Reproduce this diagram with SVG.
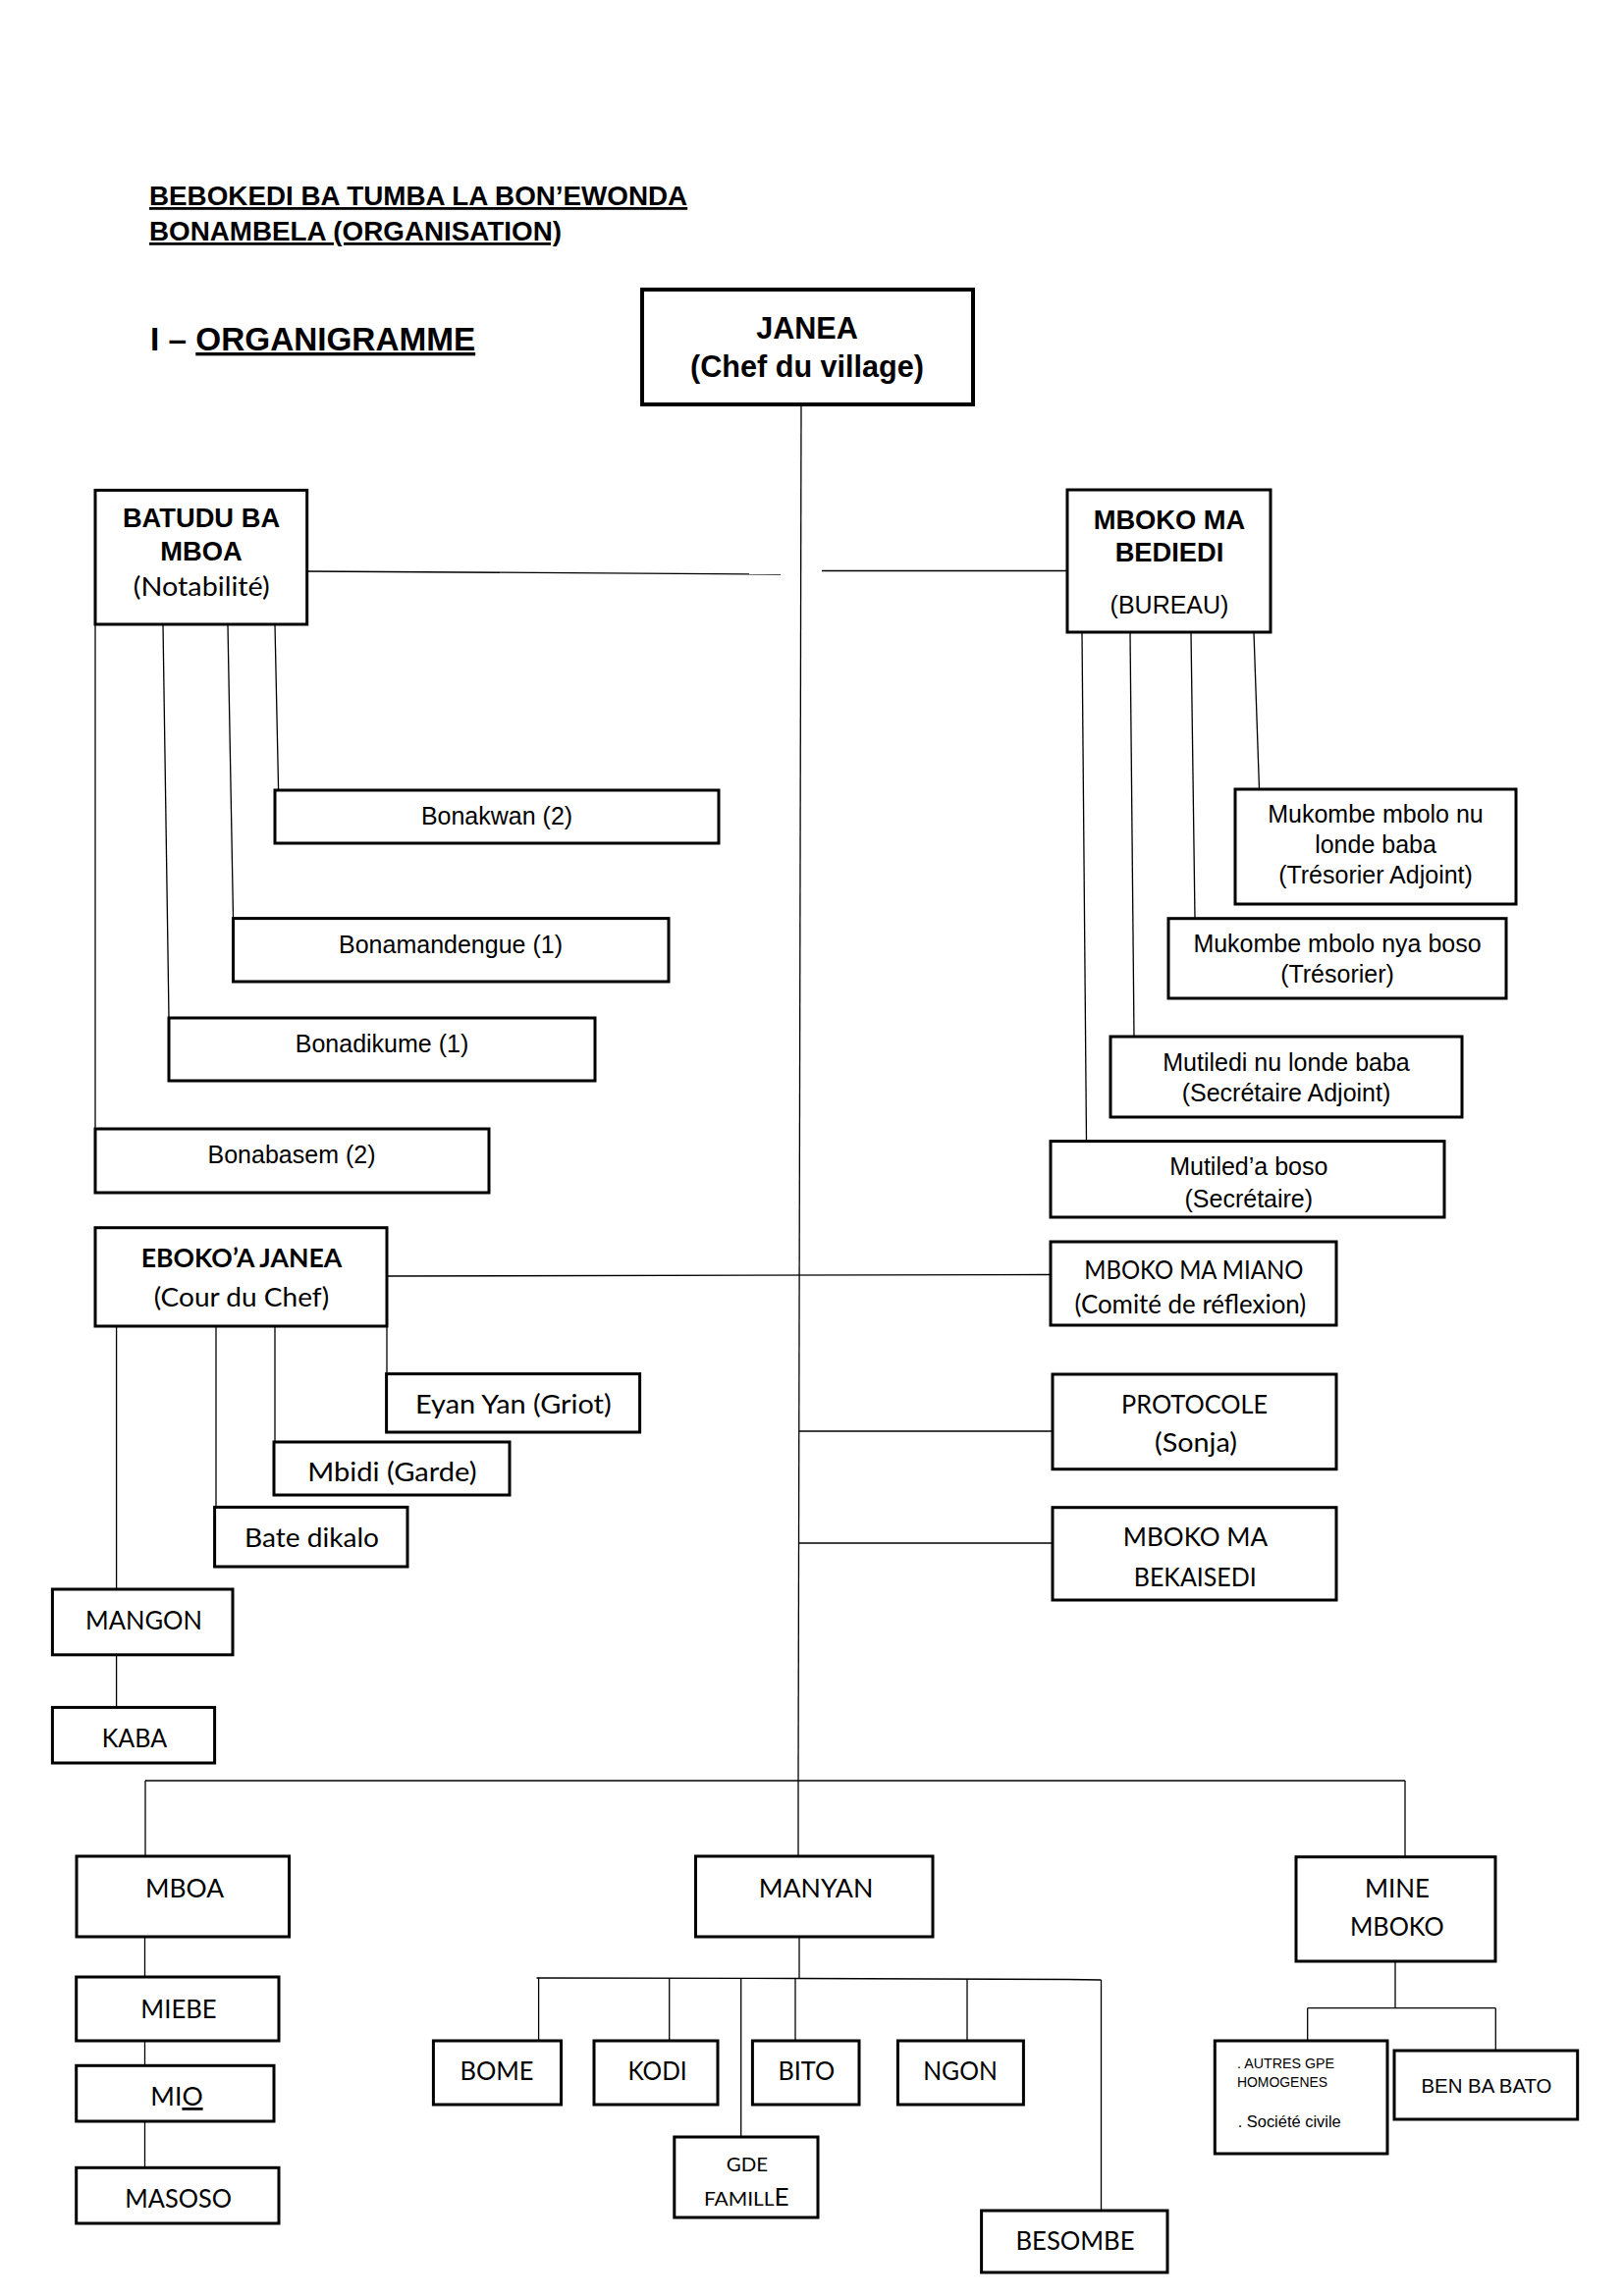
<svg xmlns="http://www.w3.org/2000/svg" width="1654" height="2339" viewBox="0 0 1654 2339">
<style>
rect.b{fill:#fff;stroke:#000;stroke-width:3}
rect.t{fill:#fff;stroke:#000;stroke-width:4}
#connectors line,#connectors polyline{stroke:#000;stroke-width:1.3;fill:none}
text{fill:#000}
.a{font-family:"Liberation Sans",Arial,sans-serif}
.c{font-family:Lato,"Open Sans",sans-serif}
.m{text-anchor:middle}
.bd{font-weight:bold}
.u{text-decoration:underline}
.s25{font-size:25px}
.s27{font-size:27.5px}
</style>
<rect width="1654" height="2339" fill="#fff"/>

<g id="header">
<text class="a bd u" x="152" y="209" font-size="27.8">BEBOKEDI BA TUMBA LA BON’EWONDA</text>
<text class="a bd u" x="152" y="245" font-size="27.8">BONAMBELA (ORGANISATION)</text>
<text class="a bd" x="153" y="357" font-size="33.3">I – <tspan class="u">ORGANIGRAMME</tspan></text>
</g>

<g id="connectors">
<line x1="816" y1="412" x2="813" y2="1814"/>
<line x1="312" y1="582" x2="795" y2="585"/>
<line x1="837" y1="581.5" x2="1087" y2="581.5"/>
<line x1="97" y1="636" x2="97" y2="1150"/>
<line x1="166" y1="636" x2="172" y2="1037"/>
<line x1="232" y1="636" x2="237.5" y2="935.6"/>
<line x1="280" y1="636" x2="283.6" y2="805"/>
<line x1="1102" y1="644" x2="1106.5" y2="1162.6"/>
<line x1="1151" y1="644" x2="1155" y2="1056"/>
<line x1="1213" y1="644" x2="1217" y2="935.7"/>
<line x1="1277" y1="644" x2="1282.5" y2="804"/>
<line x1="394" y1="1300" x2="1070" y2="1298.5"/>
<line x1="814" y1="1458" x2="1072" y2="1458"/>
<line x1="814" y1="1572" x2="1072" y2="1572"/>
<line x1="118.6" y1="1351" x2="118.6" y2="1619"/>
<line x1="220" y1="1351" x2="220" y2="1535.4"/>
<line x1="280" y1="1351" x2="280" y2="1469"/>
<line x1="394" y1="1351" x2="394" y2="1399.6"/>
<line x1="118.6" y1="1686" x2="118.6" y2="1739.4"/>
<line x1="148" y1="1814" x2="1431" y2="1814"/>
<line x1="148" y1="1814" x2="148" y2="1891"/>
<line x1="813" y1="1814" x2="813" y2="1891"/>
<line x1="1431" y1="1814" x2="1431" y2="1891.7"/>
<line x1="147.5" y1="1973" x2="147.5" y2="2014"/>
<line x1="147.5" y1="2079" x2="147.5" y2="2104.3"/>
<line x1="147.5" y1="2161" x2="147.5" y2="2208.3"/>
<line x1="814" y1="1973" x2="814" y2="2015.5"/>
<polyline points="546.5,2015 814,2015.5 1088,2016.5 1121.5,2017"/>
<line x1="548.6" y1="2015" x2="548.6" y2="2079"/>
<line x1="681.7" y1="2015.3" x2="681.7" y2="2079"/>
<line x1="754.7" y1="2015.4" x2="754.7" y2="2177"/>
<line x1="810" y1="2015.5" x2="810" y2="2079"/>
<line x1="985" y1="2016" x2="985" y2="2079"/>
<line x1="1121.5" y1="2017" x2="1121.5" y2="2252"/>
<line x1="1421" y1="1982" x2="1421" y2="2045.7"/>
<line x1="1331.7" y1="2045.7" x2="1523.3" y2="2045.7"/>
<line x1="1331.7" y1="2045.7" x2="1331.7" y2="2079"/>
<line x1="1523.3" y1="2045.7" x2="1523.3" y2="2089"/>
</g>

<g id="janea">
<rect class="t" x="654" y="295" width="337" height="117"/>
<text class="a bd m" x="822" y="345" font-size="30.6">JANEA</text>
<text class="a bd m" x="822" y="384" font-size="30.6">(Chef du village)</text>
</g>

<g id="batudu">
<rect class="b" x="97" y="499.4" width="215.7" height="136.6"/>
<text class="a bd m" x="205" y="537" font-size="27.3">BATUDU BA</text>
<text class="a bd m" x="205" y="571" font-size="27.3">MBOA</text>
<text class="c m s27" x="205.3" y="607" textLength="139" lengthAdjust="spacingAndGlyphs">(Notabilité)</text>
</g>

<g id="bonakwan">
<rect class="b" x="280" y="805" width="452" height="54"/>
<text class="a m s25" x="506" y="840">Bonakwan (2)</text>
</g>
<g id="bonamandengue">
<rect class="b" x="237.5" y="935.6" width="443.5" height="64.4"/>
<text class="a m s25" x="459" y="970.5">Bonamandengue (1)</text>
</g>
<g id="bonadikume">
<rect class="b" x="172" y="1037" width="434" height="64"/>
<text class="a m s25" x="389" y="1072">Bonadikume (1)</text>
</g>
<g id="bonabasem">
<rect class="b" x="97" y="1150" width="401" height="65"/>
<text class="a m s25" x="297" y="1185">Bonabasem (2)</text>
</g>

<g id="bediedi">
<rect class="b" x="1087" y="499" width="207" height="145"/>
<text class="a bd m" x="1191" y="538.7" font-size="27.3">MBOKO MA</text>
<text class="a bd m" x="1191" y="572" font-size="27.3">BEDIEDI</text>
<text class="a m s25" x="1191" y="625">(BUREAU)</text>
</g>

<g id="tresorier-adjoint">
<rect class="b" x="1258" y="804" width="286" height="117"/>
<text class="a m s25" x="1401" y="838">Mukombe mbolo nu</text>
<text class="a m s25" x="1401" y="869">londe baba</text>
<text class="a m s25" x="1401" y="900">(Trésorier Adjoint)</text>
</g>
<g id="tresorier">
<rect class="b" x="1190" y="935.7" width="344" height="81.3"/>
<text class="a m s25" x="1362" y="970">Mukombe mbolo nya boso</text>
<text class="a m s25" x="1362" y="1001">(Trésorier)</text>
</g>
<g id="secretaire-adjoint">
<rect class="b" x="1131" y="1056" width="358" height="82"/>
<text class="a m s25" x="1310" y="1091">Mutiledi nu londe baba</text>
<text class="a m s25" x="1310" y="1122">(Secrétaire Adjoint)</text>
</g>
<g id="secretaire">
<rect class="b" x="1070" y="1162.6" width="401" height="77.4"/>
<text class="a m s25" x="1271.8" y="1197">Mutiled’a boso</text>
<text class="a m s25" x="1271.8" y="1230">(Secrétaire)</text>
</g>

<g id="eboko">
<rect class="b" x="97" y="1250.7" width="297" height="100.3"/>
<text class="c bd m s27" x="246" y="1290.5" textLength="204.5" lengthAdjust="spacingAndGlyphs">EBOKO’A JANEA</text>
<text class="c m s27" x="246" y="1331" textLength="178.6" lengthAdjust="spacingAndGlyphs">(Cour du Chef)</text>
</g>
<g id="eyan">
<rect class="b" x="393.6" y="1399.6" width="258" height="59.4"/>
<text class="c m s27" x="522.8" y="1440" textLength="199.6" lengthAdjust="spacingAndGlyphs">Eyan Yan (Griot)</text>
</g>
<g id="mbidi">
<rect class="b" x="279" y="1469" width="240" height="54"/>
<text class="c m s27" x="399.4" y="1509" textLength="172.3" lengthAdjust="spacingAndGlyphs">Mbidi (Garde)</text>
</g>
<g id="bate">
<rect class="b" x="218.6" y="1535.4" width="196.4" height="60.6"/>
<text class="c m s27" x="317.5" y="1576" textLength="137" lengthAdjust="spacingAndGlyphs">Bate dikalo</text>
</g>
<g id="mangon">
<rect class="b" x="53.4" y="1619" width="183.6" height="66.8"/>
<text class="c m s27" x="146.5" y="1660" textLength="119" lengthAdjust="spacingAndGlyphs">MANGON</text>
</g>
<g id="kaba">
<rect class="b" x="53.4" y="1739.4" width="165.2" height="56.6"/>
<text class="c m s27" x="137" y="1779.6" textLength="66.5" lengthAdjust="spacingAndGlyphs">KABA</text>
</g>

<g id="miano">
<rect class="b" x="1070" y="1265" width="291" height="85"/>
<text class="c m s27" x="1215.8" y="1302.7" textLength="223" lengthAdjust="spacingAndGlyphs">MBOKO MA MIANO</text>
<text class="c m s27" x="1212.4" y="1338" textLength="235.7" lengthAdjust="spacingAndGlyphs">(Comité de réflexion)</text>
</g>
<g id="protocole">
<rect class="b" x="1072" y="1400" width="289" height="96.7"/>
<text class="c m s27" x="1216.6" y="1440" textLength="149" lengthAdjust="spacingAndGlyphs">PROTOCOLE</text>
<text class="c m s27" x="1218" y="1479" textLength="84" lengthAdjust="spacingAndGlyphs">(Sonja)</text>
</g>
<g id="bekaisedi">
<rect class="b" x="1072" y="1535.7" width="289" height="94.3"/>
<text class="c m s27" x="1217.5" y="1575" textLength="147.3" lengthAdjust="spacingAndGlyphs">MBOKO MA</text>
<text class="c m s27" x="1217.3" y="1616" textLength="125" lengthAdjust="spacingAndGlyphs">BEKAISEDI</text>
</g>

<g id="mboa">
<rect class="b" x="78" y="1891" width="216.5" height="82"/>
<text class="c m s27" x="188" y="1933" textLength="80" lengthAdjust="spacingAndGlyphs">MBOA</text>
</g>
<g id="manyan">
<rect class="b" x="708.5" y="1891" width="241.5" height="82"/>
<text class="c m s27" x="831" y="1933" textLength="116.6" lengthAdjust="spacingAndGlyphs">MANYAN</text>
</g>
<g id="mine-mboko">
<rect class="b" x="1320" y="1891.7" width="203" height="106.3"/>
<text class="c m s27" x="1423" y="1932.7" textLength="66" lengthAdjust="spacingAndGlyphs">MINE</text>
<text class="c m s27" x="1422.8" y="1971.7" textLength="95.7" lengthAdjust="spacingAndGlyphs">MBOKO</text>
</g>

<g id="miebe">
<rect class="b" x="77.7" y="2014" width="206.3" height="65"/>
<text class="c m s27" x="182" y="2056" textLength="77.3" lengthAdjust="spacingAndGlyphs">MIEBE</text>
</g>
<g id="mio">
<rect class="b" x="77.7" y="2104.3" width="201.3" height="56.7"/>
<text class="c m s27" x="180" y="2145" textLength="53.3" lengthAdjust="spacingAndGlyphs">MI<tspan class="u">O</tspan></text>
</g>
<g id="masoso">
<rect class="b" x="77.7" y="2208.3" width="206.3" height="56.7"/>
<text class="c m s27" x="181.7" y="2249" textLength="108.7" lengthAdjust="spacingAndGlyphs">MASOSO</text>
</g>

<g id="bome">
<rect class="b" x="441.4" y="2079" width="130.1" height="65"/>
<text class="c m s27" x="506" y="2119" textLength="75" lengthAdjust="spacingAndGlyphs">BOME</text>
</g>
<g id="kodi">
<rect class="b" x="605" y="2079" width="126" height="65"/>
<text class="c m s27" x="669.5" y="2119" textLength="60.2" lengthAdjust="spacingAndGlyphs">KODI</text>
</g>
<g id="bito">
<rect class="b" x="766.4" y="2079" width="108.6" height="65"/>
<text class="c m s27" x="821.3" y="2119" textLength="57.7" lengthAdjust="spacingAndGlyphs">BITO</text>
</g>
<g id="ngon">
<rect class="b" x="914.4" y="2079" width="128" height="65"/>
<text class="c m s27" x="978" y="2119" textLength="75.5" lengthAdjust="spacingAndGlyphs">NGON</text>
</g>
<g id="gde-famille">
<rect class="b" x="686.8" y="2177" width="146.2" height="82"/>
<text class="c m" x="761" y="2212" font-size="19" textLength="42.3" lengthAdjust="spacingAndGlyphs">GDE</text>
<text class="c m" x="760.3" y="2247" font-size="20" textLength="86.7" lengthAdjust="spacingAndGlyphs">FAMILL<tspan font-size="25">E</tspan></text>
</g>
<g id="besombe">
<rect class="b" x="999.6" y="2252" width="189.4" height="63"/>
<text class="c m s27" x="1095" y="2292" textLength="121" lengthAdjust="spacingAndGlyphs">BESOMBE</text>
</g>

<g id="autres">
<rect class="b" x="1237.3" y="2079" width="175.7" height="115"/>
<text class="a" x="1260" y="2106.7" font-size="14" textLength="99" lengthAdjust="spacingAndGlyphs">. AUTRES GPE</text>
<text class="a" x="1260" y="2125.7" font-size="14" textLength="92" lengthAdjust="spacingAndGlyphs">HOMOGENES</text>
<text class="a" x="1260.7" y="2167" font-size="16" textLength="105" lengthAdjust="spacingAndGlyphs">. Société civile</text>
</g>
<g id="ben-ba-bato">
<rect class="b" x="1420" y="2089" width="186.7" height="70"/>
<text class="a m" x="1514" y="2131.7" font-size="20.4">BEN BA BATO</text>
</g>
</svg>
